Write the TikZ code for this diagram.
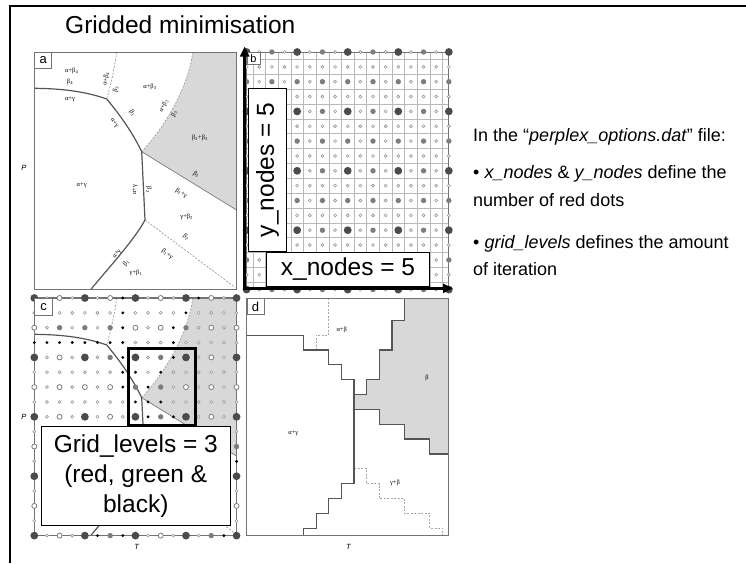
\documentclass[tikz,border=0pt]{standalone}
\usepackage{fontspec}
\setmainfont{Liberation Sans}
\newfontfamily\phasefont{Liberation Serif}
\usetikzlibrary{arrows.meta, positioning, calc}

\definecolor{FrameGray}{RGB}{115,115,115}
\definecolor{LineGray}{RGB}{85,85,85}
\definecolor{DashGray}{RGB}{165,165,165}
\definecolor{FieldGray}{RGB}{216,216,216}
\definecolor{GridGray}{RGB}{185,185,185}
\definecolor{DotDark}{RGB}{75,75,75}
\definecolor{DotMid}{RGB}{125,125,125}
\definecolor{RingGray}{RGB}{150,150,150}

\tikzset{
  panel/.style={draw=FrameGray, line width=1pt},
  gridline/.style={draw=GridGray, line width=0.5pt},
  tagbox/.style={rectangle, draw=FrameGray, fill=white, line width=0.8pt, inner sep=0pt,
                 minimum width=17pt, minimum height=16pt, anchor=north west,
                 font=\fontsize{13}{13}\selectfont},
  phaseline/.style={draw=LineGray, line width=1.2pt},
  phasedash/.style={draw=DashGray, line width=0.8pt, dash pattern=on 2pt off 1.5pt},
  fieldedge/.style={draw=DashGray!75!black, line width=0.7pt},
  phaselbl/.style={font=\phasefont\fontsize{6.5}{6.5}\selectfont, inner sep=0pt},
  axlbl/.style={font=\itshape\fontsize{7.5}{7.5}\selectfont, inner sep=0pt},
  bigtext/.style={font=\fontsize{24.5}{30}\selectfont},
  notebox/.style={rectangle, draw=black, fill=white, line width=0.9pt, bigtext,
                  align=center, inner sep=0pt},
  sidetext/.style={font=\fontsize{18}{18}\selectfont, anchor=base west, inner sep=0pt},
  axarrow/.style={-{Triangle[length=10pt, width=9pt]}, line width=3.5pt, line cap=rect},
  bigdot/.style={fill=DotDark},
  middot/.style={fill=DotMid},
  ringdot/.style={draw=RingGray, fill=white, line width=0.6pt},
  opendot/.style={draw=DotMid, fill=white, line width=0.8pt},
  blackdot/.style={fill=black},
}

% nodes picked out in the third-level pass (panel c)
\foreach \p/\q in {7/0,13/0,7/1,12/1,7/2,11/2,0/3,1/3,2/3,3/3,4/3,5/3,6/3,7/3,11/3,
                   7/4,11/4,7/5,8/5,10/5,7/6,9/6,8/7,9/7,10/7,9/8,11/8,16/11,5/16,7/16,15/16}
  {\expandafter\xdef\csname cblk\p-\q\endcsname{1}}
\foreach \p/\q in {2/2,4/2,6/2,12/2,6/4,10/4,8/6,10/6,10/8,6/16,14/16,16/10}
  {\expandafter\xdef\csname cmid\p-\q\endcsname{1}}

\newcommand{\phasemap}{%
  \fill[FieldGray] (158.4,0) .. controls (155,30) and (135,70) .. (107.4,99.7)
        -- (202.2,158) -- (202.2,0) -- cycle;
  \draw[phasedash] (158.4,0) .. controls (155,30) and (135,70) .. (107.4,99.7);
  \draw[fieldedge] (107.4,99.7) -- (202.2,158);
  \draw[phasedash] (82.4,0) .. controls (80,18) and (76,35) .. (72.4,47);
  \draw[phasedash] (110.7,168) -- (200.7,235.3);
  \draw[phaseline] (0,36.3) .. controls (25,36.5) and (50,39) .. (72.4,47)
        .. controls (85,62) and (98,80) .. (107.4,99.7)
        -- (110.7,168)
        .. controls (100,188) and (75,215) .. (56.4,237.6);
}

\begin{document}
\begin{tikzpicture}[x=1pt, y=-1pt]
  \useasboundingbox (0,0) rectangle (746,563);
  \draw[line width=2.3pt] (10,563) -- (10,6) -- (746,6);

  \node[bigtext, anchor=base west, inner sep=0pt] (title) at (65,33) {Gridded minimisation};

  % a
  \begin{scope}[shift={(34.3,52)}]
    \phasemap
    \draw[panel] (0,0) rectangle (202.2,237.6);
    \node[phaselbl] (ab4) at (37.4,18.7) {α+β\textsubscript{4}};
    \node[phaselbl] (b4) at (35.7,29.7) {β\textsubscript{4}};
    \node[phaselbl] (ag1) at (35.7,47.3) {α+γ};
    \node[phaselbl, rotate=80] (ab4r) at (71.7,27) {α+β\textsubscript{4}};
    \node[phaselbl, rotate=80] (b3r) at (81.5,37) {β\textsubscript{3}};
    \node[phaselbl] (ab3) at (115.7,35.3) {α+β\textsubscript{3}};
    \node[phaselbl, rotate=-56] (ag2) at (80,71) {α+γ};
    \node[phaselbl, rotate=-56] (b3s) at (98,61) {β\textsubscript{3}};
    \node[phaselbl, rotate=62] (ab3r) at (129.5,54) {α+β\textsubscript{3}};
    \node[phaselbl, rotate=62] (b3t) at (140,62) {β\textsubscript{3}};
    \node[phaselbl] (b2b3) at (165.7,86.3) {β\textsubscript{2}+β\textsubscript{3}};
    \node[phaselbl] (ag3) at (47.4,133) {α+γ};
    \node[phaselbl, rotate=90] (ag4) at (100.7,138) {α+γ};
    \node[phaselbl, rotate=-90] (b2r) at (114.5,138) {β\textsubscript{2}};
    \node[phaselbl, rotate=-31] (b3u) at (162,122.5) {β\textsubscript{3}};
    \node[phaselbl, rotate=-31] (b2g) at (147,141) {β\textsubscript{2}+γ};
    \node[phaselbl] (gb2) at (152.4,164.7) {γ+β\textsubscript{2}};
    \node[phaselbl, rotate=52] (ag5) at (83,202) {α+γ};
    \node[phaselbl, rotate=52] (b1r) at (92,211) {β\textsubscript{1}};
    \node[phaselbl, rotate=-37] (b2s) at (152,185.5) {β\textsubscript{2}};
    \node[phaselbl, rotate=-37] (b1g) at (133,202) {β\textsubscript{1}+γ};
    \node[phaselbl] (gb1) at (101.7,221) {γ+β\textsubscript{1}};
  \end{scope}
  \node[tagbox] (taga) at (34.3,52) {a};
  \node[axlbl] (pa) at (24,168.3) {P};

  % b
  \begin{scope}[shift={(246.6,52)}, x=12.64pt, y=-14.85pt]
    \foreach \k in {0,...,15} {
      \draw[gridline] (\k+0.5,0) -- (\k+0.5,16);
      \draw[gridline] (0,\k+0.5) -- (16,\k+0.5);
    }
    \draw[panel] (0,0) rectangle (16,16);
    \foreach \i in {0,...,16} {
      \foreach \j in {0,...,16} {
        \pgfmathtruncatemacro\lvl{(mod(\i,4)==0 && mod(\j,4)==0) ? 1 : ((mod(\i,2)==0 && mod(\j,2)==0) ? 2 : 3)}
        \ifcase\lvl\or
          \path[bigdot] (\i,\j) circle[radius=3.9pt];
        \or
          \path[middot] (\i,\j) circle[radius=2.7pt];
        \or
          \path[ringdot] (\i,\j) circle[radius=1.5pt];
        \fi
      }
    }
  \end{scope}
  \node[tagbox, minimum width=13pt, minimum height=11.5pt, font=\fontsize{11}{11}\selectfont] (tagb) at (246.6,52) {b};
  \node[notebox, rotate=90, minimum width=163.4pt, minimum height=38.4pt] (ynodes) at (267.5,170) {y\_nodes = 5};
  \node[notebox, minimum width=162.6pt, minimum height=34pt] (xnodes) at (348,269.3) {x\_nodes = 5};
  \coordinate (corner) at (244.7,288.3);
  \coordinate (ytip) at (244.7,46.5);
  \coordinate (xtip) at (453,288.3);
  \draw[axarrow] (corner) -- (ytip);
  \draw[axarrow] (corner) -- (xtip);

  % c
  \begin{scope}[shift={(34.3,298)}]
    \phasemap
  \end{scope}
  \begin{scope}[shift={(34.3,298)}, x=12.64pt, y=-14.85pt]
    \draw[panel, line width=1.3pt] (0,0) rectangle (16,16);
    \foreach \i in {0,...,16} {
      \foreach \j in {0,...,16} {
        \pgfmathtruncatemacro\lvl{(mod(\i,4)==0 && mod(\j,4)==0) ? 1 : ((mod(\i,2)==0 && mod(\j,2)==0) ? 2 : 3)}
        \ifcase\lvl\or
          \path[bigdot] (\i,\j) circle[radius=3.9pt];
        \or
          \ifcsname cmid\i-\j\endcsname
            \path[middot] (\i,\j) circle[radius=2.7pt];
          \else
            \path[opendot] (\i,\j) circle[radius=2.5pt];
          \fi
        \or
          \ifcsname cblk\i-\j\endcsname
            \path[blackdot] (\i,\j) circle[radius=1.6pt];
          \else
            \path[ringdot] (\i,\j) circle[radius=1.5pt];
          \fi
        \fi
      }
    }
  \end{scope}
  \node[tagbox, minimum width=18pt, minimum height=17pt] (tagc) at (34.3,298) {c};
  \draw[line width=3pt] (128.3,348.3) rectangle (195,425);
  \node[notebox, minimum width=188.3pt, minimum height=98.3pt] (levels) at (135.8,475.8)
       {Grid\_levels = 3\\(red, green \&\\black)};
  \node[axlbl] (pc) at (24,416.7) {P};
  \node[axlbl] (tc) at (136.7,546.7) {T};

  % d
  \begin{scope}[shift={(246.6,298)}, x=12.64pt, y=-14.85pt]
    \fill[FieldGray] (12.5,0) -- (12.5,1.5) -- (11.5,1.5) -- (11.5,3.5) -- (10.5,3.5)
        -- (10.5,5.5) -- (9.5,5.5) -- (9.5,6.5) -- (8.5,6.5) -- (8.5,7.5) -- (10.5,7.5)
        -- (10.5,8.5) -- (12.5,8.5) -- (12.5,9.5) -- (14.5,9.5) -- (14.5,10.5) -- (16,10.5)
        -- (16,0) -- cycle;
    \draw[phaseline] (12.5,0) -- (12.5,1.5) -- (11.5,1.5) -- (11.5,3.5) -- (10.5,3.5)
        -- (10.5,5.5) -- (9.5,5.5) -- (9.5,6.5) -- (8.5,6.5) -- (8.5,7.5) -- (10.5,7.5)
        -- (10.5,8.5) -- (12.5,8.5) -- (12.5,9.5) -- (14.5,9.5) -- (14.5,10.5) -- (16,10.5);
    \draw[phasedash] (6.5,0) -- (6.5,2.5) -- (5.5,2.5) -- (5.5,3.5);
    \draw[phasedash] (8.5,11.5) -- (9.5,11.5) -- (9.5,12.5) -- (10.5,12.5) -- (10.5,13.5)
        -- (12.5,13.5) -- (12.5,14.5) -- (14.5,14.5) -- (14.5,15.5) -- (15.5,15.5) -- (15.5,16);
    \draw[phaseline] (0,2.5) -- (4.5,2.5) -- (4.5,3.5) -- (6.5,3.5) -- (6.5,4.5) -- (7.5,4.5)
        -- (7.5,5.5) -- (8.5,5.5) -- (8.5,12.5) -- (7.5,12.5) -- (7.5,13.5) -- (6.5,13.5)
        -- (6.5,14.5) -- (5.5,14.5) -- (5.5,15.5) -- (4.5,15.5) -- (4.5,16);
    \draw[panel] (0,0) rectangle (16,16);
  \end{scope}
  \node[tagbox] (tagd) at (246.6,298) {d};
  \node[phaselbl] (dab) at (341.7,330) {α+β};
  \node[phaselbl] (dag) at (293.3,433.3) {α+γ};
  \node[phaselbl] (dbeta) at (427,378) {β};
  \node[phaselbl] (dgb) at (395,482.7) {γ+β};
  \node[axlbl] (td) at (348.3,546.7) {T};

  % notes
  \node[sidetext] (intro) at (473,141.7) {In the “\textit{perplex\_options.dat}” file:};
  \node[sidetext] (xy1) at (473,178.3) {• \textit{x\_nodes} \& \textit{y\_nodes} define the};
  \node[sidetext] (xy2) at (473,206.7) {number of red dots};
  \node[sidetext] (gl1) at (473,248.3) {• \textit{grid\_levels} defines the amount};
  \node[sidetext] (gl2) at (473,275) {of iteration};
\end{tikzpicture}
\end{document}
